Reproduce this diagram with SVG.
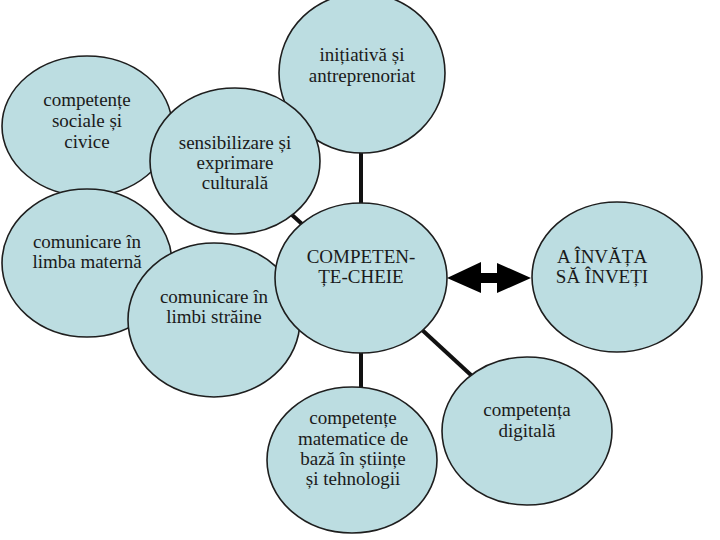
<svg xmlns="http://www.w3.org/2000/svg" width="720" height="540" viewBox="0 0 720 540">
<style>
.n{fill:#bcdde1;stroke:#1e1e1e;stroke-width:1.6}
.t{font-family:"Liberation Serif","Times New Roman",serif;font-size:19px;fill:#1a1a1a;text-anchor:middle}
.c{stroke:#111;stroke-width:4;fill:none}
</style>
<rect width="720" height="540" fill="#ffffff"/>
<g id="connectors">
<line class="c" x1="361" y1="150" x2="361" y2="206"/>
<line class="c" x1="291" y1="214" x2="302" y2="224"/>
<line class="c" x1="420" y1="328" x2="472" y2="376"/>
<line class="c" x1="361" y1="350" x2="361" y2="390"/>
<polygon fill="#000" points="447,278 481,262 481,273 497,273 497,263 531,278 497,293 497,283 481,283 481,293"/>
</g>
<g id="n-sociale"><ellipse class="n" cx="87" cy="126" rx="85" ry="70"/>
<text class="t" x="87" y="106">competențe</text><text class="t" x="87" y="127">sociale și</text><text class="t" x="87" y="148">civice</text></g>
<g id="n-materna"><ellipse class="n" cx="87" cy="263" rx="85" ry="74"/>
<text class="t" x="87" y="248">comunicare în</text><text class="t" x="87" y="268">limba maternă</text></g>
<g id="n-initiativa"><ellipse class="n" cx="362" cy="73" rx="83" ry="80"/>
<text class="t" x="362" y="61">inițiativă și</text><text class="t" x="362" y="82">antreprenoriat</text></g>
<g id="n-culturala"><ellipse class="n" cx="235" cy="161" rx="85" ry="73"/>
<text class="t" x="235" y="149">sensibilizare și</text><text class="t" x="235" y="169">exprimare</text><text class="t" x="235" y="189">culturală</text></g>
<g id="n-straine"><ellipse class="n" cx="214" cy="320" rx="86" ry="77"/>
<text class="t" x="214" y="303">comunicare în</text><text class="t" x="214" y="323">limbi străine</text></g>
<g id="n-centru"><ellipse class="n" cx="361" cy="278" rx="86" ry="75"/>
<text class="t" x="361" y="263">COMPETEN-</text><text class="t" x="361" y="283">ȚE-CHEIE</text></g>
<g id="n-invata"><ellipse class="n" cx="617" cy="277" rx="85" ry="75"/>
<text class="t" x="602" y="263">A ÎNVĂȚA</text><text class="t" x="602" y="283">SĂ ÎNVEȚI</text></g>
<g id="n-matematice"><ellipse class="n" cx="352" cy="460" rx="85" ry="73"/>
<text class="t" x="353" y="424">competențe</text><text class="t" x="353" y="445">matematice de</text><text class="t" x="353" y="465">bază în științe</text><text class="t" x="353" y="485">și tehnologii</text></g>
<g id="n-digitala"><ellipse class="n" cx="527" cy="431" rx="85" ry="74"/>
<text class="t" x="527" y="416">competența</text><text class="t" x="527" y="437">digitală</text></g>
</svg>
